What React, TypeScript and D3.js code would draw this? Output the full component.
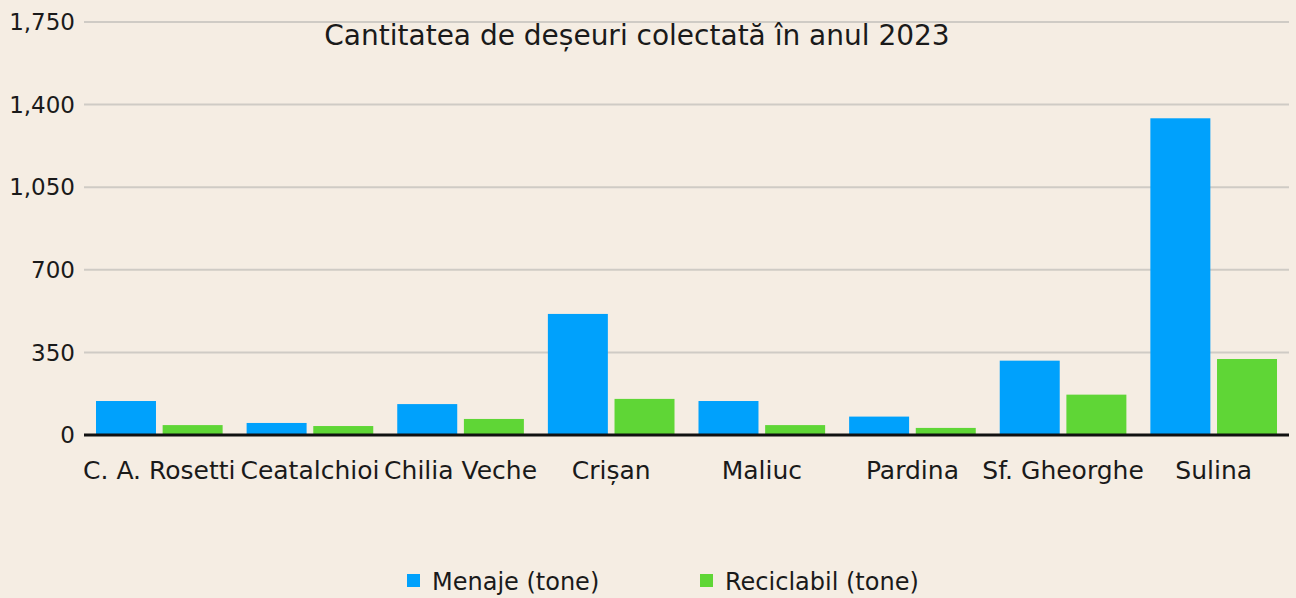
import * as d3 from 'd3'
import { useEffect, useRef } from 'react'

const categories = ['C. A. Rosetti', 'Ceatalchioi', 'Chilia Veche', 'Crișan', 'Maliuc', 'Pardina', 'Sf. Gheorghe', 'Sulina']
const menaje = [144, 51, 131, 513, 144, 78, 315, 1342]
const reciclabil = [42, 38, 68, 153, 42, 30, 171, 322]
const seriesNames = ['Menaje (tone)', 'Reciclabil (tone)']
const yTicks = [0, 350, 700, 1050, 1400, 1750]
const colors = ['#00a1fc', '#5fd636']

const W = 1296
const H = 598

export default function App() {
  const svgRef = useRef<SVGSVGElement | null>(null)

  useEffect(() => {
    if (!svgRef.current) return
    const svg = d3.select(svgRef.current)
    svg.selectAll('*').remove()

    const font = '"DejaVu Sans", sans-serif'
    const left = 84
    const right = 1289

    svg.append('rect').attr('width', W).attr('height', H).attr('fill', '#f5ede3')

    const x = d3.scaleBand().domain(categories).range([left, right]).paddingInner(0).paddingOuter(0)
    const x1 = d3.scaleBand().domain(seriesNames).range([0, x.bandwidth()]).paddingInner(0.1).paddingOuter(0.18)
    const y = d3.scaleLinear().domain([0, 1750]).range([435, 22])

    // gridlines
    svg.append('g')
      .selectAll('line')
      .data(yTicks.filter((t) => t > 0))
      .join('line')
      .attr('x1', left)
      .attr('x2', right)
      .attr('y1', (d) => y(d))
      .attr('y2', (d) => y(d))
      .attr('stroke', '#cfcbc5')
      .attr('stroke-width', 2)

    // y labels
    svg.append('g')
      .selectAll('text')
      .data(yTicks)
      .join('text')
      .attr('x', 75)
      .attr('y', (d) => y(d))
      .attr('dy', '0.36em')
      .attr('text-anchor', 'end')
      .attr('font-family', font)
      .attr('font-size', 23)
      .attr('fill', '#1a1a1a')
      .text((d) => d3.format(',')(d))

    const series = [menaje, reciclabil]
    series.forEach((vals, si) => {
      svg.append('g')
        .selectAll('rect')
        .data(vals)
        .join('rect')
        .attr('x', (_, i) => (x(categories[i]) || 0) + (x1(seriesNames[si]) || 0))
        .attr('y', (d) => y(d))
        .attr('width', x1.bandwidth())
        .attr('height', (d) => y(0) - y(d))
        .attr('fill', colors[si])
    })

    // axis line
    svg.append('line')
      .attr('x1', left)
      .attr('x2', right)
      .attr('y1', y(0))
      .attr('y2', y(0))
      .attr('stroke', '#111')
      .attr('stroke-width', 3)

    // category labels
    svg.append('g')
      .selectAll('text')
      .data(categories)
      .join('text')
      .attr('x', (d) => (x(d) || 0) + x.bandwidth() / 2)
      .attr('y', 479)
      .attr('text-anchor', 'middle')
      .attr('font-family', font)
      .attr('font-size', 25)
      .attr('fill', '#1a1a1a')
      .text((d) => d)

    // title
    svg.append('text')
      .attr('x', 637)
      .attr('y', 45)
      .attr('text-anchor', 'middle')
      .attr('font-family', font)
      .attr('font-size', 28)
      .attr('fill', '#1a1a1a')
      .text('Cantitatea de deșeuri colectată în anul 2023')

    // legend
    const legendX = [407, 700]
    const lg = svg.append('g')
    seriesNames.forEach((name, i) => {
      lg.append('rect')
        .attr('x', legendX[i])
        .attr('y', 574)
        .attr('width', 13)
        .attr('height', 13)
        .attr('fill', colors[i])
      lg.append('text')
        .attr('x', legendX[i] + 25)
        .attr('y', 590)
        .attr('font-family', font)
        .attr('font-size', 24)
        .attr('fill', '#1a1a1a')
        .text(name)
    })
  }, [])

  return <svg ref={svgRef} width={W} height={H} style={{ display: 'block', position: 'absolute', left: 0, top: 0 }} />
}
